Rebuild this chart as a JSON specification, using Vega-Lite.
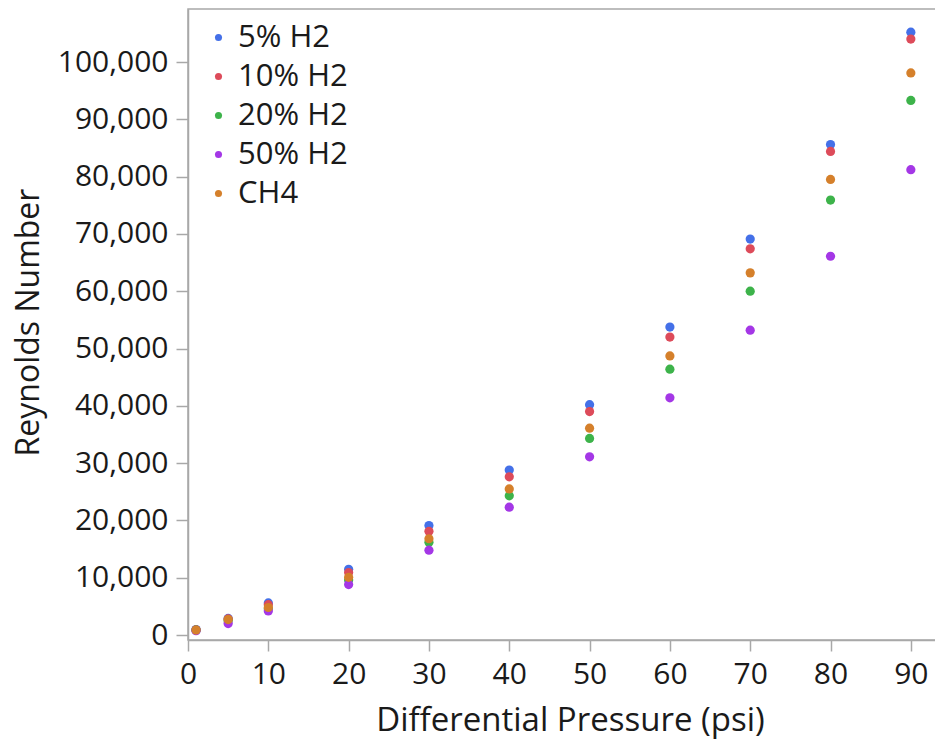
{
  "$schema": "https://vega.github.io/schema/vega-lite/v6.json",
  "autosize": "none",
  "padding": {"top": 9, "left": 188, "right": 0, "bottom": 103},
  "width": 763,
  "height": 631,
  "title": {"text": "Reynolds Number vs. Differential Pressure by Gas", "anchor": "start", "frame": "group", "dx": -93, "offset": 9, "baseline": "alphabetic", "fontSize": 21, "fontWeight": "bold", "font": "Open Sans", "color": "#000000"},
  "config": {
    "font": "Open Sans",
    "view": {"stroke": "#a8a8a8", "strokeWidth": 1.5},
    "axis": {"domainColor": "#a8a8a8", "domainWidth": 1.5, "tickColor": "#a8a8a8", "tickWidth": 1.5, "grid": false, "labelFlush": false, "labelColor": "#1a1a1a", "titleColor": "#1a1a1a", "labelFontSize": 30, "titleFontSize": 32, "titleFontWeight": "normal", "labelFont": "Open Sans", "titleFont": "Open Sans"},
    "legend": {"labelFontSize": 31, "labelColor": "#1a1a1a", "labelFont": "Open Sans"}
  },
  "data": {"values": [
    {"dp": 1, "re": 950, "gas": "5% H2"},
    {"dp": 5, "re": 2900, "gas": "5% H2"},
    {"dp": 10, "re": 5600, "gas": "5% H2"},
    {"dp": 20, "re": 11470, "gas": "5% H2"},
    {"dp": 30, "re": 19100, "gas": "5% H2"},
    {"dp": 40, "re": 28800, "gas": "5% H2"},
    {"dp": 50, "re": 40200, "gas": "5% H2"},
    {"dp": 60, "re": 53750, "gas": "5% H2"},
    {"dp": 70, "re": 69100, "gas": "5% H2"},
    {"dp": 80, "re": 85600, "gas": "5% H2"},
    {"dp": 90, "re": 105200, "gas": "5% H2"},
    {"dp": 1, "re": 920, "gas": "10% H2"},
    {"dp": 5, "re": 2800, "gas": "10% H2"},
    {"dp": 10, "re": 5300, "gas": "10% H2"},
    {"dp": 20, "re": 10900, "gas": "10% H2"},
    {"dp": 30, "re": 18100, "gas": "10% H2"},
    {"dp": 40, "re": 27600, "gas": "10% H2"},
    {"dp": 50, "re": 39000, "gas": "10% H2"},
    {"dp": 60, "re": 52000, "gas": "10% H2"},
    {"dp": 70, "re": 67400, "gas": "10% H2"},
    {"dp": 80, "re": 84400, "gas": "10% H2"},
    {"dp": 90, "re": 104000, "gas": "10% H2"},
    {"dp": 1, "re": 840, "gas": "20% H2"},
    {"dp": 5, "re": 2500, "gas": "20% H2"},
    {"dp": 10, "re": 4600, "gas": "20% H2"},
    {"dp": 20, "re": 9600, "gas": "20% H2"},
    {"dp": 30, "re": 16200, "gas": "20% H2"},
    {"dp": 40, "re": 24300, "gas": "20% H2"},
    {"dp": 50, "re": 34300, "gas": "20% H2"},
    {"dp": 60, "re": 46400, "gas": "20% H2"},
    {"dp": 70, "re": 60000, "gas": "20% H2"},
    {"dp": 80, "re": 75900, "gas": "20% H2"},
    {"dp": 90, "re": 93300, "gas": "20% H2"},
    {"dp": 1, "re": 750, "gas": "50% H2"},
    {"dp": 5, "re": 2000, "gas": "50% H2"},
    {"dp": 10, "re": 4200, "gas": "50% H2"},
    {"dp": 20, "re": 8800, "gas": "50% H2"},
    {"dp": 30, "re": 14800, "gas": "50% H2"},
    {"dp": 40, "re": 22300, "gas": "50% H2"},
    {"dp": 50, "re": 31100, "gas": "50% H2"},
    {"dp": 60, "re": 41400, "gas": "50% H2"},
    {"dp": 70, "re": 53200, "gas": "50% H2"},
    {"dp": 80, "re": 66100, "gas": "50% H2"},
    {"dp": 90, "re": 81200, "gas": "50% H2"},
    {"dp": 1, "re": 870, "gas": "CH4"},
    {"dp": 5, "re": 2700, "gas": "CH4"},
    {"dp": 10, "re": 4800, "gas": "CH4"},
    {"dp": 20, "re": 10070, "gas": "CH4"},
    {"dp": 30, "re": 16800, "gas": "CH4"},
    {"dp": 40, "re": 25500, "gas": "CH4"},
    {"dp": 50, "re": 36100, "gas": "CH4"},
    {"dp": 60, "re": 48700, "gas": "CH4"},
    {"dp": 70, "re": 63200, "gas": "CH4"},
    {"dp": 80, "re": 79500, "gas": "CH4"},
    {"dp": 90, "re": 98100, "gas": "CH4"}
  ]},
  "mark": {"type": "point", "filled": true, "opacity": 1, "size": 85, "shape": "circle"},
  "encoding": {
    "x": {"field": "dp", "type": "quantitative", "title": "Differential Pressure (psi)",
      "scale": {"domain": [0, 95], "nice": false, "zero": false},
      "axis": {"values": [0,10,20,30,40,50,60,70,80,90], "tickSize": 11, "labelPadding": 8, "titleFontSize": 33, "titleX": 382, "titleY": 80, "titleBaseline": "middle", "titleAlign": "center"}},
    "y": {"field": "re", "type": "quantitative", "title": "Reynolds Number",
      "scale": {"domain": [-870, 109250], "nice": false, "zero": false},
      "axis": {"values": [0,10000,20000,30000,40000,50000,60000,70000,80000,90000,100000], "format": ",.0f", "tickSize": 12, "labelPadding": 8, "titleX": -160, "titleY": 313, "titleBaseline": "middle", "titleAlign": "center"}},
    "color": {"field": "gas", "type": "nominal", "title": null,
      "scale": {"domain": ["5% H2", "10% H2", "20% H2", "50% H2", "CH4"], "range": ["#4470e8", "#dd4b5a", "#3db34a", "#a437e6", "#d5802b"]},
      "legend": {"orient": "none", "legendX": 15, "legendY": 13, "symbolSize": 50, "symbolType": "circle", "labelOffset": 4, "rowPadding": 7, "padding": 0}}
  }
}
